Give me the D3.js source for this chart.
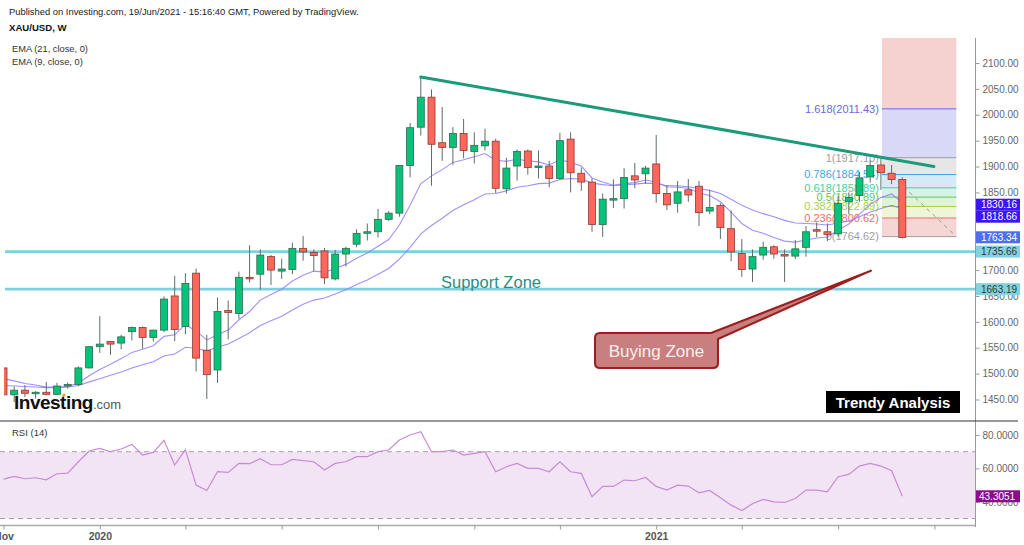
<!DOCTYPE html>
<html><head><meta charset="utf-8">
<script src="https://cdn.jsdelivr.net/npm/d3@7"></script>
<style>
html,body{margin:0;padding:0;background:#fff;}
svg{display:block;font-family:Arial,"Liberation Sans",sans-serif;}
</style></head><body>
<svg id="c" width="1024" height="545"></svg>
<script>
// ---------------- DATA ----------------
const weeks = ["2019-11-04","2019-11-11","2019-11-18","2019-11-25","2019-12-02","2019-12-09","2019-12-16","2019-12-23","2019-12-30",
"2020-01-06","2020-01-13","2020-01-20","2020-01-27","2020-02-03","2020-02-10","2020-02-17","2020-02-24","2020-03-02","2020-03-09","2020-03-16","2020-03-23","2020-03-30",
"2020-04-06","2020-04-13","2020-04-20","2020-04-27","2020-05-04","2020-05-11","2020-05-18","2020-05-25","2020-06-01","2020-06-08","2020-06-15","2020-06-22","2020-06-29",
"2020-07-06","2020-07-13","2020-07-20","2020-07-27","2020-08-03","2020-08-10","2020-08-17","2020-08-24","2020-08-31","2020-09-07","2020-09-14","2020-09-21","2020-09-28",
"2020-10-05","2020-10-12","2020-10-19","2020-10-26","2020-11-02","2020-11-09","2020-11-16","2020-11-23","2020-11-30","2020-12-07","2020-12-14","2020-12-21","2020-12-28",
"2021-01-04","2021-01-11","2021-01-18","2021-01-25","2021-02-01","2021-02-08","2021-02-15","2021-02-22","2021-03-01","2021-03-08","2021-03-15","2021-03-22","2021-03-29",
"2021-04-05","2021-04-12","2021-04-19","2021-04-26","2021-05-03","2021-05-10","2021-05-17","2021-05-24","2021-05-31","2021-06-07","2021-06-14"];

const opens = [1511,1459,1468,1462,1464,1460,1476,1479,1511,1552,1562,1559,1581,1589,1570,1584,1650,1591,1694,1545,1507,1622,1616,1686,1692,1726,1698,1701,1742,1734,1737,1683,1731,1750,1772,1774,1798,1810,1902,1976,2034,1946,1937,1964,1929,1940,1949,1857,1901,1930,1899,1901,1877,1953,1887,1870,1788,1836,1838,1882,1886,1905,1848,1829,1855,1862,1814,1825,1780,1732,1702,1729,1745,1730,1727,1744,1778,1774,1770,1832,1844,1880,1903,1887,1875];
const highs = [1517,1475,1478,1466,1484,1482,1483,1514,1553,1611,1563,1575,1591,1591,1585,1649,1689,1694,1703,1575,1647,1641,1697,1748,1740,1729,1722,1753,1766,1740,1743,1739,1745,1779,1790,1818,1814,1902,1984,2075,2049,2015,1976,1992,1966,1973,1954,1917,1933,1933,1931,1911,1965,1966,1898,1877,1848,1875,1897,1907,1901,1961,1864,1872,1876,1872,1855,1829,1815,1760,1740,1755,1748,1740,1758,1785,1792,1790,1843,1850,1890,1912,1916,1903,1879];
const lows = [1456,1445,1455,1452,1458,1458,1471,1476,1510,1540,1536,1547,1564,1548,1562,1580,1563,1576,1504,1451,1482,1566,1606,1676,1662,1671,1683,1692,1718,1697,1673,1680,1707,1744,1757,1763,1795,1803,1879,1960,1863,1911,1903,1916,1906,1931,1849,1848,1873,1884,1877,1860,1875,1850,1853,1774,1764,1820,1819,1858,1867,1830,1816,1811,1832,1785,1808,1760,1717,1687,1677,1720,1722,1677,1721,1726,1764,1756,1765,1808,1832,1869,1855,1866,1761];
const closes = [1459,1468,1462,1464,1460,1476,1479,1511,1552,1557,1557,1571,1589,1570,1584,1644,1585,1674,1530,1498,1620,1618,1686,1683,1729,1700,1702,1742,1735,1728,1685,1731,1742,1771,1774,1798,1810,1902,1975,2034,1943,1937,1964,1931,1941,1949,1858,1897,1929,1898,1901,1877,1950,1888,1870,1788,1837,1838,1879,1874,1897,1848,1826,1851,1845,1811,1821,1782,1735,1701,1726,1744,1731,1729,1741,1774,1777,1769,1829,1840,1878,1902,1888,1875,1763];

const ema21 = [1477,1476,1475,1474,1473,1473,1474,1477,1484,1490,1497,1503,1511,1517,1523,1534,1538,1551,1549,1544,1551,1557,1568,1579,1593,1602,1611,1623,1634,1642,1646,1654,1662,1672,1681,1692,1703,1721,1744,1770,1786,1800,1815,1826,1836,1847,1848,1853,1860,1863,1867,1868,1875,1877,1876,1868,1865,1863,1865,1866,1868,1867,1863,1863,1861,1857,1854,1848,1837,1825,1816,1809,1803,1796,1791,1790,1789,1787,1791,1795,1803,1812,1819,1825,1818.66];
const ema9 = [1490,1486,1481,1478,1474,1474,1475,1482,1496,1508,1518,1529,1541,1547,1554,1572,1575,1595,1582,1565,1575,1584,1604,1620,1642,1653,1663,1679,1690,1698,1696,1703,1711,1723,1733,1746,1759,1787,1825,1867,1882,1894,1908,1913,1919,1925,1912,1910,1914,1911,1909,1903,1913,1908,1901,1878,1870,1864,1867,1869,1874,1870,1861,1860,1858,1849,1844,1832,1812,1790,1777,1771,1763,1756,1754,1758,1762,1764,1777,1789,1808,1827,1840,1847,1830.16];
const rsi = [53.6,55.2,53.8,54.4,53.2,56.8,57.2,64.0,70.4,72.0,70.0,71.6,74.4,68.0,69.6,76.8,62.0,71.2,50.0,46.8,58.0,57.6,63.0,62.8,65.8,62.2,62.2,65.4,64.6,64,59,63,64,67,67,70,71,77,80,82,70,70,71,68,69,70,58,61,63,60,60,58,64,58,57,43,49.2,49.2,53,52.6,54.6,49.2,47,50,49.4,45.4,46.8,42.4,38,34.8,38.8,41.4,40,39.6,42,47,47,46,55,56.4,61.4,63,61.4,58.6,43.3051];

const priceTicks = [2100,2050,2000,1950,1900,1850,1700,1650,1600,1550,1500,1450];
const rsiTicks = [80,60,40];
const timeTickDates = ["2019-11-04","2020-01-06","2020-03-02","2020-05-04","2020-07-06","2020-09-07","2020-11-02","2021-01-04","2021-03-01","2021-05-03","2021-07-05"];
const timeTickLabels = ["Nov","2020","","","","","","2021","","",""];

const supportLevels = [1735.66,1663.19];
const trendStart = ["2020-08-03",2073];
const trendEnd = ["2021-07-05",1900];
const fibRatios = ["0","0.236","0.382","0.5","0.618","0.786","1","1.618","2.618"];
const fibPrices = [1764.62,1800.62,1822.89,1840.89,1858.89,1884.54,1917.10,2011.43,2163.8];
const fibStartDate = "2021-05-31", fibEndDate = "2021-07-05";
const priceLabels = [
  {v:1830.16, bg:"#3c14ff", fg:"#fff"},
  {v:1818.66, bg:"#3c14ff", fg:"#fff"},
  {v:1763.34, bg:"#4e6ef2", fg:"#fff"},
  {v:1735.66, bg:"#82d3df", fg:"#333"},
  {v:1663.19, bg:"#82d3df", fg:"#333"}
];

// ---------------- LAYOUT ----------------
const plotR = 975;
const mainTop = 38, mainBot = 421;
const rsiTop = 422, rsiBot = 525;
const parse = d3.timeParse("%Y-%m-%d");
const dates = weeks.map(parse);
const pxPerDay = 10.7/7;
const DAY = 86400000;
const t0 = new Date(dates[0].getTime() - 3.5/pxPerDay*DAY);
const t1 = new Date(dates[0].getTime() + (plotR-3.5)/pxPerDay*DAY);
const x = d3.scaleTime().domain([t0,t1]).range([0,plotR]);
const y = d3.scaleLinear().domain([1450,2100]).range([399.5,63]);
const yr = d3.scaleLinear().domain([30,80]).range([518.5,435]);

const svg = d3.select("#c");
const defs = svg.append("defs");
defs.append("clipPath").attr("id","mainClip").append("rect").attr("x",4).attr("y",mainTop).attr("width",plotR-4).attr("height",mainBot-mainTop);
defs.append("clipPath").attr("id","rsiClip").append("rect").attr("x",0).attr("y",rsiTop).attr("width",plotR).attr("height",rsiBot-rsiTop);

// header text
svg.append("text").attr("x",9).attr("y",15).attr("font-size","9.4px").attr("fill","#222")
  .text("Published on Investing.com, 19/Jun/2021 - 15:16:40 GMT, Powered by TradingView.");
svg.append("text").attr("x",9).attr("y",31).attr("font-size","9.6px").attr("font-weight","bold").attr("fill","#111").text("XAU/USD, W");
svg.append("text").attr("x",12).attr("y",52).attr("font-size","9.3px").attr("fill","#333").text("EMA (21, close, 0)");
svg.append("text").attr("x",12).attr("y",64.5).attr("font-size","9.3px").attr("fill","#333").text("EMA (9, close, 0)");

const main = svg.append("g").attr("clip-path","url(#mainClip)");

// Fibonacci
const fibFills = ["#f6d5d5","#eef5d8","#dff3d8","#d6f1e6","#d6e9f5","#e6e6e6","#d9d8f6","#f5d2d0"];
const fibLines = ["#9e9e9e","#f26b6b","#a8cf45","#5cc45c","#46cfa2","#3fa6dc","#9e9e9e","#6e66dd","#f07a7a"];
const fx0 = x(parse(fibStartDate)) + 1, fx1 = x(parse(fibEndDate)) + 22;
for (let k=0;k<fibPrices.length-1;k++){
  main.append("rect").attr("x",fx0).attr("width",fx1-fx0)
    .attr("y",y(fibPrices[k+1])).attr("height",y(fibPrices[k])-y(fibPrices[k+1]))
    .attr("fill",fibFills[k]);
}
fibPrices.forEach((p,k)=>{
  main.append("line").attr("x1",fx0).attr("x2",fx1).attr("y1",y(p)).attr("y2",y(p))
    .attr("stroke",fibLines[k]).attr("stroke-width",1);
});
main.append("line").attr("x1",fx0+10).attr("y1",y(fibPrices[6])+18).attr("x2",fx1).attr("y2",y(fibPrices[0]))
  .attr("stroke","#9a9a9a").attr("stroke-width",1).attr("stroke-dasharray","4,4");
fibPrices.forEach((p,k)=>{
  if (k===8) return;
  main.append("text").attr("x",fx0-3).attr("y",y(p)).attr("dy","0.35em").attr("text-anchor","end")
    .attr("font-size","11px").attr("fill",fibLines[k]).text(fibRatios[k]+"("+p.toFixed(2)+")");
});

// support lines
supportLevels.forEach(v=>{
  main.append("line").attr("x1",5).attr("x2",plotR).attr("y1",y(v)).attr("y2",y(v))
    .attr("stroke","#7fd0df").attr("stroke-width",2.6);
});
main.append("text").attr("x",441).attr("y",288).attr("font-size","16.5px").attr("fill","#2a8f7f").text("Support Zone");

// EMAs
const line = d3.line().x((d,i)=>x(dates[i])).y(d=>y(d));
main.append("path").datum(ema21).attr("d",line).attr("fill","none").attr("stroke","#8f7dff").attr("stroke-width",1.1).attr("opacity",0.85);
main.append("path").datum(ema9).attr("d",line).attr("fill","none").attr("stroke","#8f7dff").attr("stroke-width",1.1).attr("opacity",0.85);

// candles
const cg = main.append("g");
dates.forEach((d,i)=>{
  const cx = x(d), o=opens[i], c=closes[i];
  const up = c>=o;
  cg.append("line").attr("x1",cx).attr("x2",cx).attr("y1",y(highs[i])).attr("y2",y(lows[i]))
    .attr("stroke","#5d6e62").attr("stroke-width",1);
  const top = y(Math.max(o,c)), bh = Math.max(1.5, Math.abs(y(o)-y(c)));
  cg.append("rect").attr("x",cx-3.5).attr("width",7).attr("y",top).attr("height",bh)
    .attr("fill",up?"#07c27a":"#ff665c").attr("stroke",up?"#2f6b4d":"#8a3a35").attr("stroke-width",0.8);
});

// trend line
main.append("line").attr("x1",x(parse(trendStart[0]))).attr("y1",y(trendStart[1]))
  .attr("x2",x(parse(trendEnd[0]))-0.5).attr("y2",y(trendEnd[1]))
  .attr("stroke","#1b9a7c").attr("stroke-width",3).attr("stroke-linecap","round");

// buying zone callout
svg.append("path").attr("d","M600,333 L711,333 L871,270.7 L718,339 L718,363 Q718,368 713,368 L600,368 Q595,368 595,363 L595,338 Q595,333 600,333 Z")
  .attr("fill","#c97f7f").attr("stroke","#9b1d1d").attr("stroke-width",2).attr("stroke-linejoin","round");
svg.append("text").attr("x",656.5).attr("y",357).attr("text-anchor","middle").attr("font-size","17px").attr("fill","#fbeeee").text("Buying Zone");

// Trendy Analysis
svg.append("rect").attr("x",826).attr("y",391).attr("width",134).attr("height",22).attr("fill","#000");
svg.append("text").attr("x",893).attr("y",408).attr("text-anchor","middle").attr("font-size","15px").attr("font-weight","bold").attr("fill","#fff").text("Trendy Analysis");

// Investing logo
const logo = svg.append("text").attr("x",14).attr("y",409);
logo.append("tspan").attr("font-size","19px").attr("font-weight","bold").attr("fill","#111").attr("letter-spacing","-0.5").text("Investing");
logo.append("tspan").attr("font-size","13px").attr("fill","#555").text(".com");
svg.append("circle").attr("cx",64).attr("cy",395).attr("r",1.6).attr("fill","#f7a21b");

// price axis
svg.append("line").attr("x1",plotR+0.5).attr("x2",plotR+0.5).attr("y1",mainTop).attr("y2",527).attr("stroke","#999").attr("stroke-width",1);
const pa = svg.append("g").attr("transform",`translate(${plotR+0.5},0)`)
  .call(d3.axisRight(y).tickValues(priceTicks).tickFormat(d3.format(".2f")).tickSize(4).tickPadding(3));
pa.select(".domain").remove();
pa.selectAll("line").attr("stroke","#999");
pa.selectAll("text").attr("font-size","10px").attr("fill","#666").attr("font-family","Arial,'Liberation Sans',sans-serif");

// price label boxes with collision avoidance
let lastY = -1e9;
priceLabels.map(l=>({...l, y:y(l.v)})).sort((a,b)=>a.y-b.y).forEach(l=>{
  let ly = Math.max(l.y, lastY+12);
  if (l.v===1830.16) ly = l.y+2;
  lastY = ly;
  svg.append("rect").attr("x",plotR+1).attr("y",ly-6).attr("width",44).attr("height",12).attr("fill",l.bg);
  svg.append("text").attr("x",plotR+6).attr("y",ly).attr("dy","0.35em").attr("font-size","10px").attr("fill",l.fg).text(l.v.toFixed(2));
});

// separator
svg.append("line").attr("x1",0).attr("x2",1018).attr("y1",421).attr("y2",421).attr("stroke","#333").attr("stroke-width",1.2);

// RSI panel
const rg = svg.append("g").attr("clip-path","url(#rsiClip)");
rg.append("rect").attr("x",0).attr("width",plotR).attr("y",yr(70)).attr("height",yr(30)-yr(70)).attr("fill","#f2e4f4");
[70,30].forEach(v=>rg.append("line").attr("x1",0).attr("x2",plotR).attr("y1",yr(v)).attr("y2",yr(v))
  .attr("stroke","#a9a0aa").attr("stroke-dasharray","5,4").attr("stroke-width",1));
const rline = d3.line().x((d,i)=>x(dates[i])).y(d=>yr(d));
rg.append("path").datum(rsi).attr("d",rline).attr("fill","none").attr("stroke","#c98ad8").attr("stroke-width",1.2);
svg.append("text").attr("x",12).attr("y",436).attr("font-size","9.5px").attr("fill","#333").text("RSI (14)");

const ra = svg.append("g").attr("transform",`translate(${plotR+0.5},0)`)
  .call(d3.axisRight(yr).tickValues(rsiTicks).tickFormat(d3.format(".4f")).tickSize(4).tickPadding(3));
ra.select(".domain").remove();
ra.selectAll("line").attr("stroke","#999");
ra.selectAll("text").attr("font-size","10px").attr("fill","#666").attr("font-family","Arial,'Liberation Sans',sans-serif");
const lastR = rsi[rsi.length-1];
svg.append("rect").attr("x",plotR+1).attr("y",yr(lastR)-6).attr("width",44).attr("height",12).attr("fill","#8b0d8b");
svg.append("text").attr("x",plotR+4).attr("y",yr(lastR)).attr("dy","0.35em").attr("font-size","10px").attr("fill","#fff").text(lastR.toFixed(4));

// time axis
svg.append("line").attr("x1",0).attr("x2",plotR).attr("y1",rsiBot+0.5).attr("y2",rsiBot+0.5).attr("stroke","#aaa").attr("stroke-width",1.5);
const ta = svg.append("g").attr("transform",`translate(0,${rsiBot+0.5})`)
  .call(d3.axisBottom(x).tickValues(timeTickDates.map(parse)).tickFormat((d,i)=>timeTickLabels[i]).tickSize(4).tickPadding(3));
ta.select(".domain").remove();
ta.selectAll("line").attr("stroke","#999");
ta.selectAll("text").attr("font-size","10.5px").attr("font-weight","bold").attr("fill","#555").attr("font-family","Arial,'Liberation Sans',sans-serif");
</script>
</body></html>
